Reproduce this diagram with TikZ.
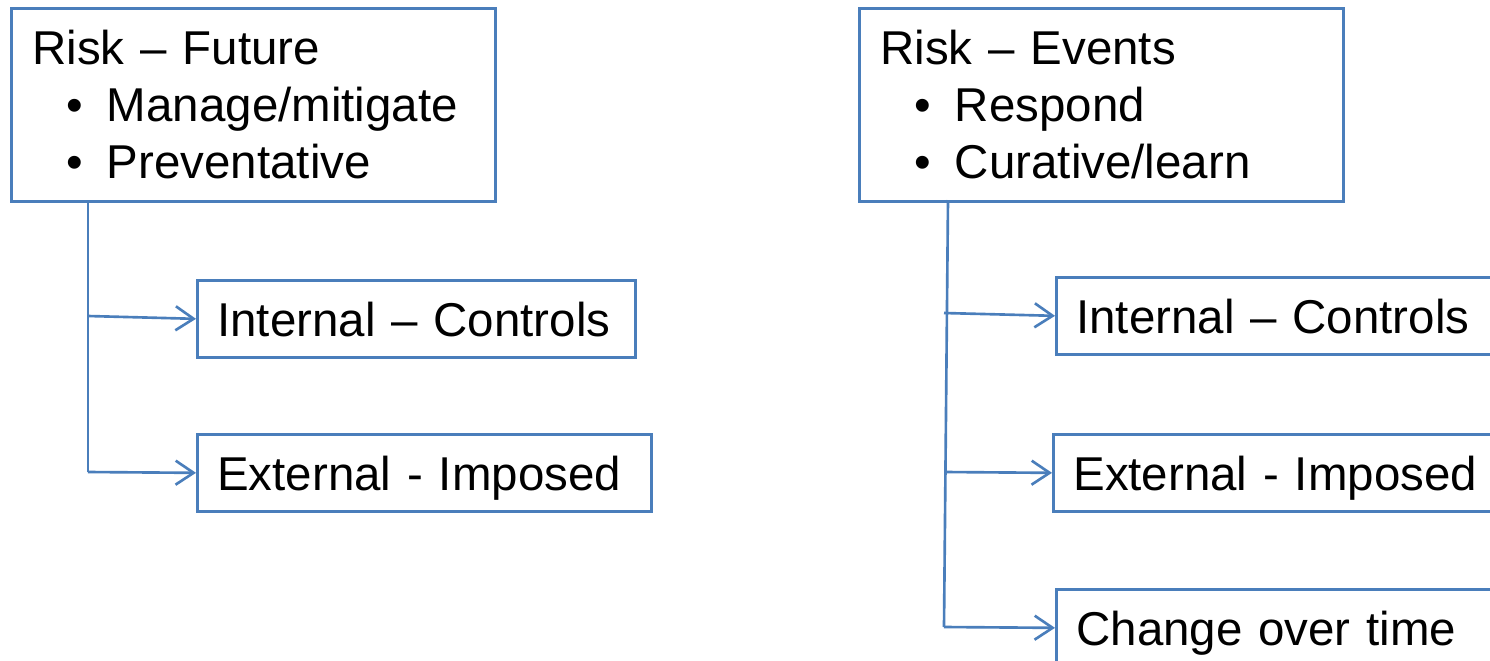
\documentclass[tikz,border=0pt]{standalone}
\usepackage{fontspec}
\setmainfont{Liberation Sans}
\usetikzlibrary{arrows.meta}
\definecolor{boxblue}{HTML}{4A7EBB}
\newcommand{\bitem}[1]{\hspace*{0.34cm}\textbullet\hspace{0.24cm}#1}

\begin{document}
\begin{tikzpicture}[x=0.01cm, y=-0.01cm,
    every node/.style={font=\fontsize{13.5}{16.2}\selectfont},
    head/.style={draw=boxblue, line width=0.75pt, anchor=north west, align=left,
      text width=4.42cm, inner xsep=0.21cm, inner ysep=0pt, minimum height=1.93cm},
    leaf/.style={draw=boxblue, line width=0.75pt, anchor=north west, align=left,
      inner xsep=0.2cm, inner ysep=0pt, minimum height=0.77cm, text depth=0pt},
    link/.style={draw=boxblue, line width=0.75pt},
    arr/.style={link, -{Straight Barb[length=0.18cm, width=0.24cm]}}]
    \useasboundingbox (0, 0) rectangle (1490, 660);
    \clip (0, 0) rectangle (1490, 660);

    \node[head] (future) at (10, 7) {Risk – Future\\\bitem{Manage/mitigate}\\\bitem{Preventative}};
    \node[head] (events) at (858, 7) {Risk – Events\\\bitem{Respond}\\\bitem{Curative/learn}};

    \node[leaf, text width=3.98cm] (fint) at (196, 279) {Internal – Controls};
    \node[leaf, text width=4.14cm] (fext) at (196, 433) {External - Imposed};
    \node[leaf, text width=4.6cm] (eint) at (1055, 276) {Internal – Controls};
    \node[leaf, text width=4.6cm] (eext) at (1052, 433) {External - Imposed};
    \node[leaf, text width=4.6cm] (echg) at (1055, 588) {Change over time};

    \coordinate (ftop) at (88, 203);
    \coordinate (fj1) at (88, 316);
    \coordinate (fj2) at (88, 472);
    \coordinate (etop) at (948, 200);
    \coordinate (ej1) at (944, 313);
    \coordinate (ej2) at (945, 472);
    \coordinate (ej3) at (944, 627);

    \draw[link] (ftop) -- (fj2);
    \draw[arr] (fj1) -- (fint.west);
    \draw[arr] (fj2) -- (fext.west);
    \draw[link] (etop) -- (ej3);
    \draw[arr] (ej1) -- (eint.west);
    \draw[arr] (ej2) -- (eext.west);
    \draw[arr] (ej3) -- (echg.west);
  \end{tikzpicture}
\end{document}
